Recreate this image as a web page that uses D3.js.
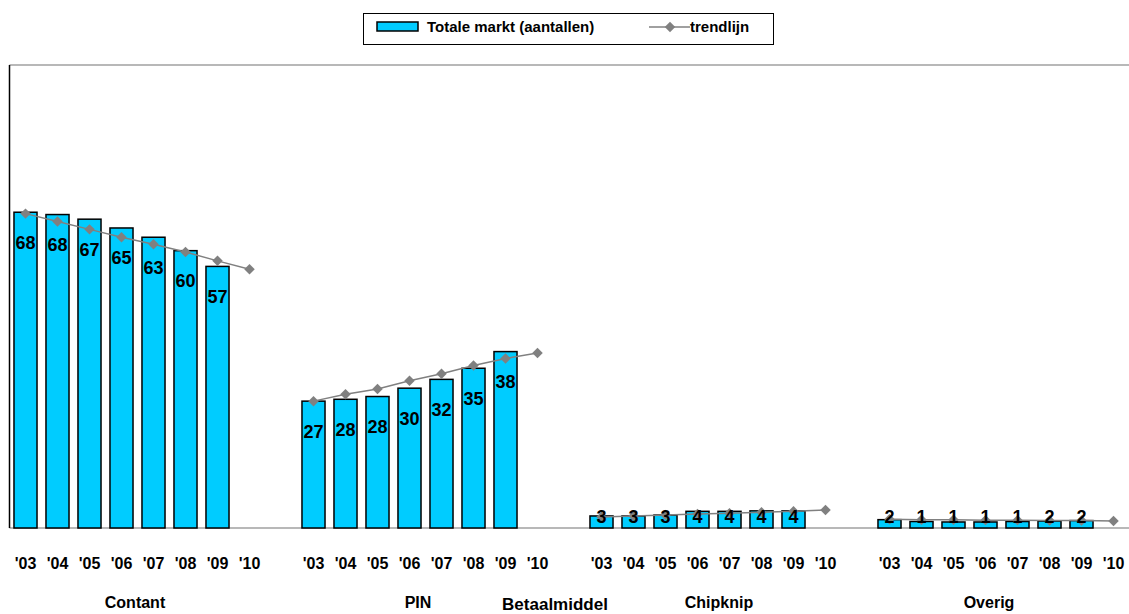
<!DOCTYPE html>
<html lang="nl">
<head>
<meta charset="utf-8">
<script src="https://d3js.org/d3.v7.min.js"></script>
<style>
  body { margin: 0; background: #fff; }
  text { font-family: "Liberation Sans", Arial, sans-serif; font-weight: bold; }
</style>
</head>
<body>
<script>
// --- data ---
const categories = ["Contant", "PIN", "Chipknip", "Overig"];
const years = ["'03", "'04", "'05", "'06", "'07", "'08", "'09", "'10"];
// bars: 2003..2009 (no 2010 bar)
const contant = [68.2, 67.7, 66.7, 64.8, 62.8, 59.9, 56.5];
const pin = [27.4, 27.8, 28.4, 30.2, 32.1, 34.5, 38.1];
const chipknip = [2.6, 2.6, 2.8, 3.6, 3.6, 3.7, 3.7];
const overig = [1.8, 1.4, 1.3, 1.3, 1.4, 1.5, 1.6];
// trend: 2003..2010
const trendContant = [67.9, 66.2, 64.5, 62.8, 61.3, 59.6, 57.7, 55.9];
const trendPin = [27.4, 28.9, 30.0, 31.8, 33.3, 35.1, 36.6, 37.8];
const trendChipknip = [2.4, 2.6, 2.8, 3.0, 3.2, 3.4, 3.6, 3.9];
const trendOverig = [1.9, 1.8, 1.8, 1.7, 1.7, 1.6, 1.6, 1.5];

const barSeries = [contant, pin, chipknip, overig];
const trendSeries = [trendContant, trendPin, trendChipknip, trendOverig];

// --- layout ---
var width = 1129, height = 614;
var plotLeft = 9.5, plotTop = 65, plotBase = 528, slot = 32;
var perGroup = years.length + 1; // one empty slot between groups

var svg = d3.select("body").append("svg")
    .attr("width", width)
    .attr("height", height);

var x = d3.scaleBand()
    .domain(d3.range(categories.length * perGroup))
    .range([plotLeft, plotLeft + categories.length * perGroup * slot])
    .paddingInner(0.28)
    .paddingOuter(0.14);

var y = d3.scaleLinear()
    .domain([0, 100])
    .range([plotBase, plotTop]);

function slotOf(g, i) { return g * perGroup + i; }
function cx(g, i) { return x(slotOf(g, i)) + x.bandwidth() / 2; }

// plot frame: grey top line, black left axis, grey baseline
svg.append("line")
    .attr("x1", plotLeft).attr("x2", width)
    .attr("y1", y(100)).attr("y2", y(100))
    .attr("stroke", "#a0a0a0").attr("stroke-width", 1.5);

svg.append("line")
    .attr("x1", plotLeft).attr("x2", width)
    .attr("y1", y(0)).attr("y2", y(0))
    .attr("stroke", "#a0a0a0").attr("stroke-width", 1.5);

svg.append("line")
    .attr("x1", plotLeft).attr("x2", plotLeft)
    .attr("y1", y(100)).attr("y2", y(0))
    .attr("stroke", "#000").attr("stroke-width", 1.5);

// bars
var bars = [];
barSeries.forEach(function(s, g) {
    s.forEach(function(v, i) { bars.push({g: g, i: i, v: v}); });
});

svg.append("g").selectAll("rect")
    .data(bars)
    .enter().append("rect")
    .attr("x", function(d) { return x(slotOf(d.g, d.i)); })
    .attr("y", function(d) { return y(d.v); })
    .attr("width", x.bandwidth())
    .attr("height", function(d) { return y(0) - y(d.v); })
    .attr("fill", "#00ccff")
    .attr("stroke", "#000")
    .attr("stroke-width", 1.5);

// trend lines
var line = d3.line()
    .x(function(d) { return cx(d.g, d.i); })
    .y(function(d) { return y(d.v); });

trendSeries.forEach(function(s, g) {
    var pts = s.map(function(v, i) { return {g: g, i: i, v: v}; });
    svg.append("path")
        .datum(pts)
        .attr("d", line)
        .attr("fill", "none")
        .attr("stroke", "#808080")
        .attr("stroke-width", 1.5);
    svg.append("g").selectAll("path")
        .data(pts)
        .enter().append("path")
        .attr("d", d3.symbol(d3.symbolDiamond2, 70))
        .attr("transform", function(d) { return "translate(" + cx(d.g, d.i) + "," + y(d.v) + ")"; })
        .attr("fill", "#808080");
});

// data labels (inside end, clamped near the baseline for tiny bars)
svg.append("g").selectAll("text")
    .data(bars)
    .enter().append("text")
    .attr("x", function(d) { return cx(d.g, d.i); })
    .attr("y", function(d) { return Math.min(y(d.v) + 30, 517); })
    .attr("dy", "0.36em")
    .attr("text-anchor", "middle")
    .style("font-size", "18px")
    .attr("fill", "#000")
    .text(function(d) { return d3.format(".0f")(d.v); });

// year tick labels
categories.forEach(function(c, g) {
    svg.append("g").selectAll("text")
        .data(years)
        .enter().append("text")
        .attr("x", function(d, i) { return cx(g, i); })
        .attr("y", 569)
        .attr("text-anchor", "middle")
        .style("font-size", "16px")
        .text(function(d) { return d; });
});

// category labels (manually placed text boxes in the original)
var catLabelX = [135, 418, 719, 989];
svg.append("g").selectAll("text")
    .data(categories)
    .enter().append("text")
    .attr("x", function(d, i) { return catLabelX[i]; })
    .attr("y", 608)
    .attr("text-anchor", "middle")
    .style("font-size", "16px")
    .text(function(d) { return d; });

svg.append("text")
    .attr("x", 555)
    .attr("y", 610)
    .attr("text-anchor", "middle")
    .style("font-size", "17px")
    .text("Betaalmiddel");

// legend
var legend = svg.append("g");
legend.append("rect")
    .attr("x", 363.5).attr("y", 13.5)
    .attr("width", 410).attr("height", 31)
    .attr("fill", "#fff").attr("stroke", "#000").attr("stroke-width", 1);
legend.append("rect")
    .attr("x", 377).attr("y", 22)
    .attr("width", 41).attr("height", 9)
    .attr("fill", "#00ccff").attr("stroke", "#000").attr("stroke-width", 1.5);
legend.append("text")
    .attr("x", 427).attr("y", 32)
    .style("font-size", "15px")
    .text("Totale markt (aantallen)");
legend.append("line")
    .attr("x1", 649).attr("x2", 690)
    .attr("y1", 27).attr("y2", 27)
    .attr("stroke", "#808080").attr("stroke-width", 1.5);
legend.append("path")
    .attr("d", d3.symbol(d3.symbolDiamond2, 70))
    .attr("transform", "translate(670,27)")
    .attr("fill", "#808080");
legend.append("text")
    .attr("x", 690).attr("y", 32)
    .style("font-size", "15px")
    .text("trendlijn");
</script>
</body>
</html>
